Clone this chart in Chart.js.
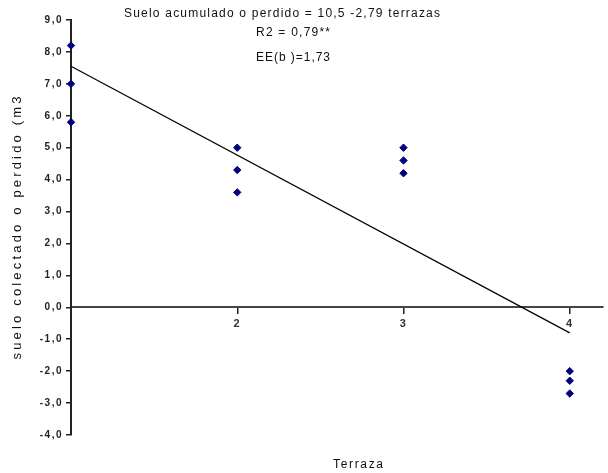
<!DOCTYPE html>
<html>
<head>
<meta charset="utf-8">
<script src="https://cdn.jsdelivr.net/npm/chart.js@4/dist/chart.umd.min.js"></script>
<style>
  html, body { margin: 0; padding: 0; background: #fff; }
  #wrap { width: 608px; height: 473px; position: relative; }
</style>
</head>
<body>
<div id="wrap"><canvas id="c" width="608" height="473"></canvas></div>
<script>
// ---- data ----
const terrazas     = [1, 1, 1, 2, 2, 2, 3, 3, 3, 4, 4, 4];
const sueloValues  = [8.2, 7.0, 5.8, 5.0, 4.3, 3.6, 5.0, 4.6, 4.2, -2.0, -2.3, -2.7];
const trendX       = [1, 4];
const trendY       = [7.55, -0.8];
const xTickValues  = [1, 2, 3, 4];
const xTickLabels  = ['', '2', '3', '4'];
const titleLines   = ['Suelo acumulado o perdido = 10,5 -2,79 terrazas', 'R2 = 0,79**', 'EE(b )=1,73'];
const yTitle       = 'suelo colectado o perdido (m3';
const xTitle       = 'Terraza';

const FONT = "'Liberation Sans', Arial, sans-serif";

function drawSpaced(ctx, text, x, y, width, align) {
  ctx.save();
  ctx.letterSpacing = '0px';
  const w = ctx.measureText(text).width;
  const sp = Math.max(0, (width - w) / Math.max(1, text.length - 1));
  ctx.letterSpacing = sp + 'px';
  ctx.textBaseline = 'middle';
  ctx.textAlign = 'left';
  let startX = x;
  if (align === 'center') startX = x - width / 2;
  ctx.fillText(text, startX, y);
  ctx.restore();
}

const textPlugin = {
  id: 'texts',
  beforeDraw(chart) {
    chart.ctx.letterSpacing = '1.5px';
  },
  beforeDatasetsDraw(chart) {
    chart.ctx.letterSpacing = '0px';
  },
  afterDraw(chart) {
    const ctx = chart.ctx;
    ctx.save();
    ctx.fillStyle = '#111';
    ctx.font = '12px ' + FONT;
    drawSpaced(ctx, titleLines[0], 282, 14, 316, 'center');
    drawSpaced(ctx, titleLines[1], 256, 33, 74, 'left');
    drawSpaced(ctx, titleLines[2], 256, 58, 74, 'left');
    drawSpaced(ctx, xTitle, 358, 465, 50, 'center');
    ctx.save();
    ctx.translate(17, 228);
    ctx.rotate(-Math.PI / 2);
    ctx.font = '13px ' + FONT;
    drawSpaced(ctx, yTitle, 0, 0, 263, 'center');
    ctx.restore();
    ctx.restore();
  }
};

const points = terrazas.map((t, i) => ({ x: t, y: sueloValues[i] }));
const trend = trendX.map((t, i) => ({ x: t, y: trendY[i] }));

new Chart(document.getElementById('c'), {
  type: 'scatter',
  data: {
    datasets: [
      {
        type: 'line',
        data: trend,
        borderColor: '#000',
        borderWidth: 1.2,
        pointRadius: 0,
        fill: false,
        clip: false,
        order: 2
      },
      {
        data: points,
        pointStyle: 'rectRot',
        pointRadius: 3.7,
        pointBackgroundColor: '#000080',
        pointBorderColor: '#000080',
        pointBorderWidth: 1,
        clip: false,
        order: 1
      }
    ]
  },
  options: {
    responsive: false,
    animation: false,
    devicePixelRatio: 1,
    layout: { padding: { top: 20, bottom: 38, left: 0, right: 0 } },
    plugins: { legend: { display: false }, tooltip: { enabled: false }, title: { display: false } },
    scales: {
      x: {
        type: 'linear',
        position: { y: 0 },
        min: 1,
        max: 4.2,
        afterBuildTicks(scale) { scale.ticks = xTickValues.map(v => ({ value: v })); },
        ticks: {
          autoSkip: false,
          maxRotation: 0,
          padding: 4,
          color: '#333',
          font: { family: FONT, size: 11, weight: 'bold' },
          callback(value) {
            const i = xTickValues.indexOf(value);
            return i >= 0 ? xTickLabels[i] : '';
          }
        },
        grid: { display: true, drawOnChartArea: false, drawTicks: true, tickLength: 6, color: '#222', lineWidth: 1.5 },
        border: { display: true, color: '#444', width: 2 }
      },
      y: {
        type: 'linear',
        position: 'left',
        min: -4,
        max: 9,
        afterFit(scale) { scale.width = 71; },
        ticks: {
          stepSize: 1,
          padding: 3,
          color: '#222',
          font: { family: FONT, size: 10, weight: 'bold' },
          callback(value) { return value.toFixed(1).replace('.', ','); }
        },
        grid: { display: true, drawOnChartArea: false, drawTicks: true, tickLength: 5, color: '#222', lineWidth: 1.5 },
        border: { display: true, color: '#222', width: 2 }
      }
    }
  },
  plugins: [textPlugin]
});
</script>
</body>
</html>
